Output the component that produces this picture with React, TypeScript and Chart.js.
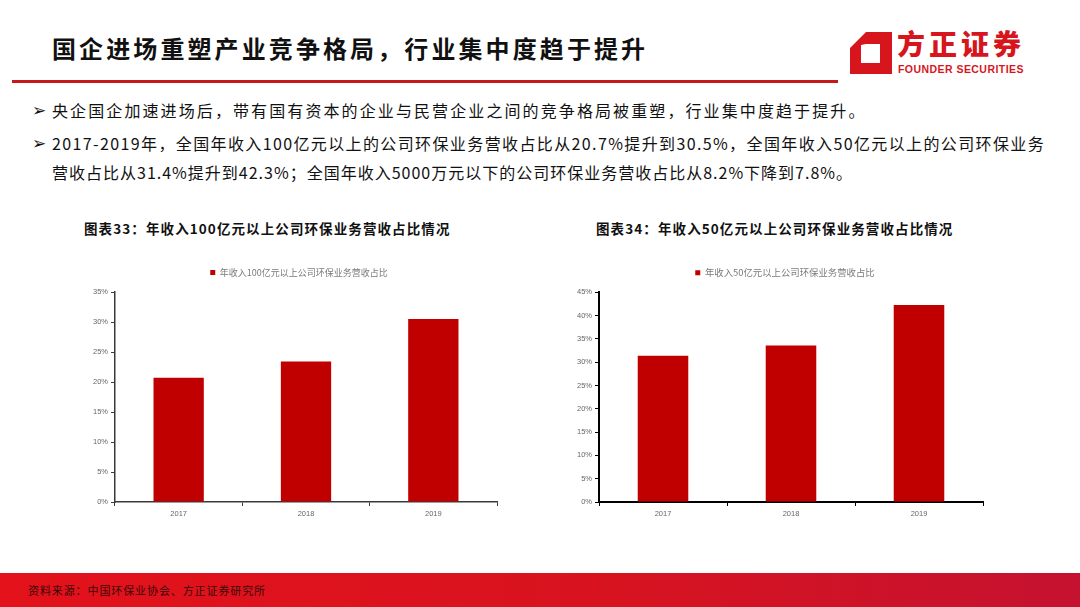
import React, { useEffect, useRef } from "react";
import { Chart, registerables } from "chart.js";

Chart.register(...registerables);

// ---- data ----
const years = ["2017", "2018", "2019"];
const share100 = [20.7, 23.4, 30.5];
const share50 = [31.4, 33.6, 42.3];
const legend100 = "年收入100亿元以上公司环保业务营收占比";
const legend50 = "年收入50亿元以上公司环保业务营收占比";
const yMax100 = 35;
const yMax50 = 45;
const yStep = 5;

const pageTitle = "国企进场重塑产业竞争格局，行业集中度趋于提升";
const bullet1 = "央企国企加速进场后，带有国有资本的企业与民营企业之间的竞争格局被重塑，行业集中度趋于提升。";
const bullet2a = "2017-2019年，全国年收入100亿元以上的公司环保业务营收占比从20.7%提升到30.5%，全国年收入50亿元以上的公司环保业务";
const bullet2b = "营收占比从31.4%提升到42.3%；全国年收入5000万元以下的公司环保业务营收占比从8.2%下降到7.8%。";
const chartTitle33 = "图表33：年收入100亿元以上公司环保业务营收占比情况";
const chartTitle34 = "图表34：年收入50亿元以上公司环保业务营收占比情况";
const sourceText = "资料来源：中国环保业协会、方正证券研究所";

const CJK = '"Noto Sans CJK SC", "Noto Sans", sans-serif';
const RED = "#C00000";

type BarProps = {
  left: number;
  top: number;
  width: number;
  height: number;
  values: number[];
  label: string;
  max: number;
  padRight: number;
  padTop: number;
  yWidth: number;
  legendShift: number;
  legendExtra: number;
  axisColor: string;
  axisWidth: number;
  legendSize: number;
};

function BarChart(p: BarProps) {
  const ref = useRef<HTMLCanvasElement | null>(null);
  useEffect(() => {
    if (!ref.current) return;
    const legendTweak = {
      id: "legendTweak",
      beforeLayout(chart: any) {
        const lg = chart.legend;
        if (lg && !lg._patched) {
          const orig = lg.fit;
          lg.fit = function (this: any) {
            orig.call(this);
            this.height += p.legendExtra;
          };
          lg._patched = true;
        }
      },
      afterLayout(chart: any) {
        const lg = chart.legend;
        if (lg) {
          lg.left += p.legendShift;
          lg.right += p.legendShift;
        }
      },
    };
    const chart = new Chart(ref.current, {
      type: "bar",
      data: {
        labels: years,
        datasets: [
          {
            label: p.label,
            data: p.values,
            backgroundColor: RED,
            borderWidth: 0,
            barPercentage: 0.395,
            categoryPercentage: 1,
          },
        ],
      },
      options: {
        animation: false,
        responsive: false,
        maintainAspectRatio: false,
        devicePixelRatio: 1,
        layout: { padding: { left: 0, right: p.padRight, top: p.padTop, bottom: 0 } },
        plugins: {
          legend: {
            display: true,
            position: "top",
            labels: {
              boxWidth: 5,
              boxHeight: 5,
              padding: 19,
              color: "#7a7a7a",
              font: { size: p.legendSize, family: CJK },
            },
          },
          tooltip: { enabled: false },
        },
        scales: {
          x: {
            grid: {
              display: true,
              drawOnChartArea: false,
              drawTicks: true,
              tickLength: 4,
              color: p.axisColor,
              lineWidth: 1,
              offset: true,
            },
            border: { display: true, color: p.axisColor, width: p.axisWidth },
            ticks: {
              color: "#666",
              font: { size: 7.5, family: '"Liberation Sans", Arial, sans-serif' },
              padding: 3,
            },
            afterFit: (s: any) => {
              s.height = 26;
            },
          },
          y: {
            min: 0,
            max: p.max,
            ticks: {
              stepSize: yStep,
              callback: (v: any) => v + "%",
              color: "#666",
              font: { size: 7.5, family: '"Liberation Sans", Arial, sans-serif' },
              padding: 3,
            },
            grid: {
              display: true,
              drawOnChartArea: false,
              tickLength: 4,
              color: p.axisColor,
              lineWidth: 1,
            },
            border: { display: true, color: p.axisColor, width: p.axisWidth },
            afterFit: (s: any) => {
              s.width = p.yWidth;
            },
          },
        },
      },
      plugins: [legendTweak],
    } as any);
    return () => chart.destroy();
  }, []);
  return (
    <canvas
      ref={ref}
      width={p.width}
      height={p.height}
      style={{ position: "absolute", left: p.left, top: p.top, width: p.width, height: p.height }}
    />
  );
}

const bulletStyle: React.CSSProperties = {
  position: "absolute",
  left: 32,
  fontSize: 17,
  lineHeight: "20px",
  color: "#111",
  fontFamily: '"DejaVu Sans", sans-serif',
};

export default function App() {
  return (
    <div
      style={{
        position: "fixed",
        left: 0,
        top: 0,
        width: 1080,
        height: 607,
        background: "#fff",
        overflow: "hidden",
        fontFamily: CJK,
      }}
    >
      {/* Title */}
      <div
        style={{
          position: "absolute",
          left: 52,
          top: 33,
          fontSize: 24,
          lineHeight: "30px",
          fontWeight: 700,
          letterSpacing: 3.1,
          color: "#111",
          whiteSpace: "nowrap",
        }}
      >
        {pageTitle}
      </div>
      {/* Red rule */}
      <div style={{ position: "absolute", left: 12, top: 80, width: 826, height: 3, background: "#C8161D" }} />

      {/* Logo */}
      <svg style={{ position: "absolute", left: 0, top: 0 }} width={1080} height={100}>
        <path
          d="M866 32 L892 32 L892 74 L850 74 L850 48 Z M861 45 L861 63 L880 63 L880 44 L866 44 Z"
          fill="#D7151D"
          fillRule="evenodd"
        />
      </svg>
      <div
        style={{
          position: "absolute",
          left: 897,
          top: 27,
          fontSize: 28,
          lineHeight: "32px",
          fontWeight: 900,
          letterSpacing: 4,
          color: "#D7151D",
          whiteSpace: "nowrap",
        }}
      >
        方正证券
      </div>
      <div
        style={{
          position: "absolute",
          left: 898,
          top: 63,
          fontSize: 10.5,
          lineHeight: "13px",
          fontWeight: 700,
          letterSpacing: 0.45,
          fontFamily: '"Liberation Sans", Arial, sans-serif',
          color: "#D7151D",
          whiteSpace: "nowrap",
        }}
      >
        FOUNDER SECURITIES
      </div>

      {/* Bullets */}
      <div style={{ ...bulletStyle, top: 100 }}>➢</div>
      <div
        style={{
          position: "absolute",
          left: 52,
          top: 98,
          fontSize: 16,
          lineHeight: "24px",
          letterSpacing: 2.1,
          color: "#111",
          whiteSpace: "nowrap",
        }}
      >
        {bullet1}
      </div>
      <div style={{ ...bulletStyle, top: 133 }}>➢</div>
      <div
        style={{
          position: "absolute",
          left: 52,
          top: 131,
          fontSize: 16,
          lineHeight: "24px",
          letterSpacing: 1.38,
          color: "#111",
          whiteSpace: "nowrap",
        }}
      >
        {bullet2a}
      </div>
      <div
        style={{
          position: "absolute",
          left: 52,
          top: 160,
          fontSize: 16,
          lineHeight: "24px",
          letterSpacing: 1.0,
          color: "#111",
          whiteSpace: "nowrap",
        }}
      >
        {bullet2b}
      </div>

      {/* Chart titles */}
      <div
        style={{
          position: "absolute",
          left: 84,
          top: 219,
          fontSize: 13.5,
          lineHeight: "18px",
          fontWeight: 700,
          letterSpacing: 1.1,
          color: "#111",
          whiteSpace: "nowrap",
        }}
      >
        {chartTitle33}
      </div>
      <div
        style={{
          position: "absolute",
          left: 596,
          top: 219,
          fontSize: 13.5,
          lineHeight: "18px",
          fontWeight: 700,
          letterSpacing: 1.1,
          color: "#111",
          whiteSpace: "nowrap",
        }}
      >
        {chartTitle34}
      </div>

      {/* Charts */}
      <BarChart
        left={60}
        top={245}
        width={449}
        height={283}
        values={share100}
        label={legend100}
        max={yMax100}
        padRight={12}
        padTop={4}
        yWidth={55}
        legendShift={20.5}
        legendExtra={5}
        axisColor="#3a3a3a"
        axisWidth={1.5}
        legendSize={9}
      />
      <BarChart
        left={540}
        top={245}
        width={455}
        height={283}
        values={share50}
        label={legend50}
        max={yMax50}
        padRight={12}
        padTop={4}
        yWidth={59}
        legendShift={23.5}
        legendExtra={5}
        axisColor="#000"
        axisWidth={2}
        legendSize={9.4}
      />

      {/* Footer */}
      <div
        style={{
          position: "absolute",
          left: 0,
          top: 573,
          width: 1080,
          height: 34,
          background: "linear-gradient(90deg, #E3121B 0%, #D8131F 55%, #C51230 100%)",
        }}
      />
      <div
        style={{
          position: "absolute",
          left: 28,
          top: 582,
          fontSize: 11,
          lineHeight: "16px",
          letterSpacing: 0.9,
          color: "#3a0808",
          whiteSpace: "nowrap",
        }}
      >
        {sourceText}
      </div>
    </div>
  );
}
